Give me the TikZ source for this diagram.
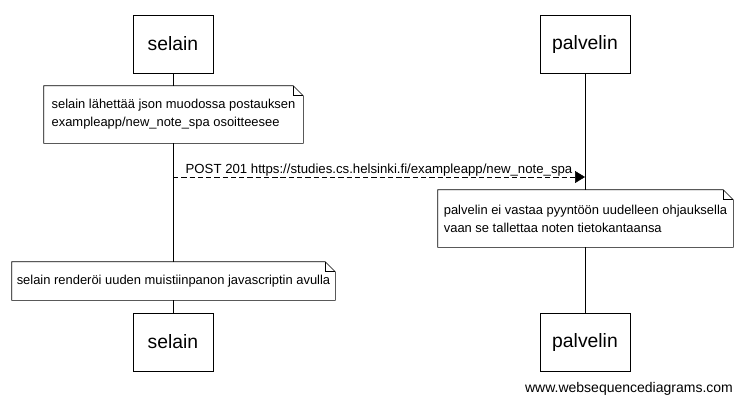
\documentclass[tikz,border=0pt]{standalone}
\usepackage{fontspec}
\setmainfont{Liberation Sans}
\usetikzlibrary{arrows.meta,calc}

\tikzset{
  actor/.style={draw, fill=white, minimum height=43.5pt, inner sep=0pt,
    font=\fontsize{14.5}{17}\selectfont},
  notebox/.style={fill=white, inner sep=0pt, align=left,
    font=\fontsize{9.7}{13.5}\selectfont},
  reply/.style={dash pattern=on 4pt off 2.2pt, -{Triangle[length=7.5pt,width=9pt]}}
}

% note outline with folded corner
\newcommand{\notefold}[1]{%
  \draw ($(#1.north east)+(-10,0)$) -- ($(#1.north east)+(0,10)$) -- (#1.south east)
    -- (#1.south west) -- (#1.north west) -- cycle;
  \draw ($(#1.north east)+(-10,0)$) |- ($(#1.north east)+(0,10)$);}

\begin{document}
\begin{tikzpicture}[x=0.75pt,y=-0.75pt]
\useasboundingbox (0,0) rectangle (744,405);

% Participants
\node[actor, minimum width=60pt] (selain) at (173,44) {selain};
\node[actor, minimum width=67.5pt] (palvelin) at (585,44) {palvelin};
\node[actor, minimum width=60pt] (selainb) at (173,342) {selain};
\node[actor, minimum width=67.5pt] (palvelinb) at (585,342) {palvelin};

% Lifelines
\draw (selain) -- (selainb);
\draw (palvelin) -- (palvelinb);

% Notes
\node[notebox, minimum width=194.25pt, minimum height=42.75pt] (note1) at (173.5,114.5)
  {selain lähettää json muodossa postauksen\\exampleapp/new\_note\_spa osoitteesee};
\notefold{note1}

\node[notebox, minimum width=221.25pt, minimum height=42.75pt] (note2) at (585.5,218.5)
  {palvelin ei vastaa pyyntöön uudelleen ohjauksella\\vaan se tallettaa noten tietokantaansa};
\notefold{note2}

\node[notebox, minimum width=242.25pt, minimum height=28.5pt] (note3) at (173.5,281)
  {selain renderöi uuden muistiinpanon javascriptin avulla};
\notefold{note3}

% Message
\coordinate (postfrom) at (173,177);
\coordinate (postto) at (585,177);
\draw[reply] (postfrom) -- (postto)
  node[midway, above, inner sep=0.5pt, font=\fontsize{9.9}{12}\selectfont] (postlabel)
  {POST 201 https://studies.cs.helsinki.fi/exampleapp/new\_note\_spa};

% Watermark
\node[font=\fontsize{10.5}{12}\selectfont] (wsd) at (629,389) {www.websequencediagrams.com};
\end{tikzpicture}
\end{document}
